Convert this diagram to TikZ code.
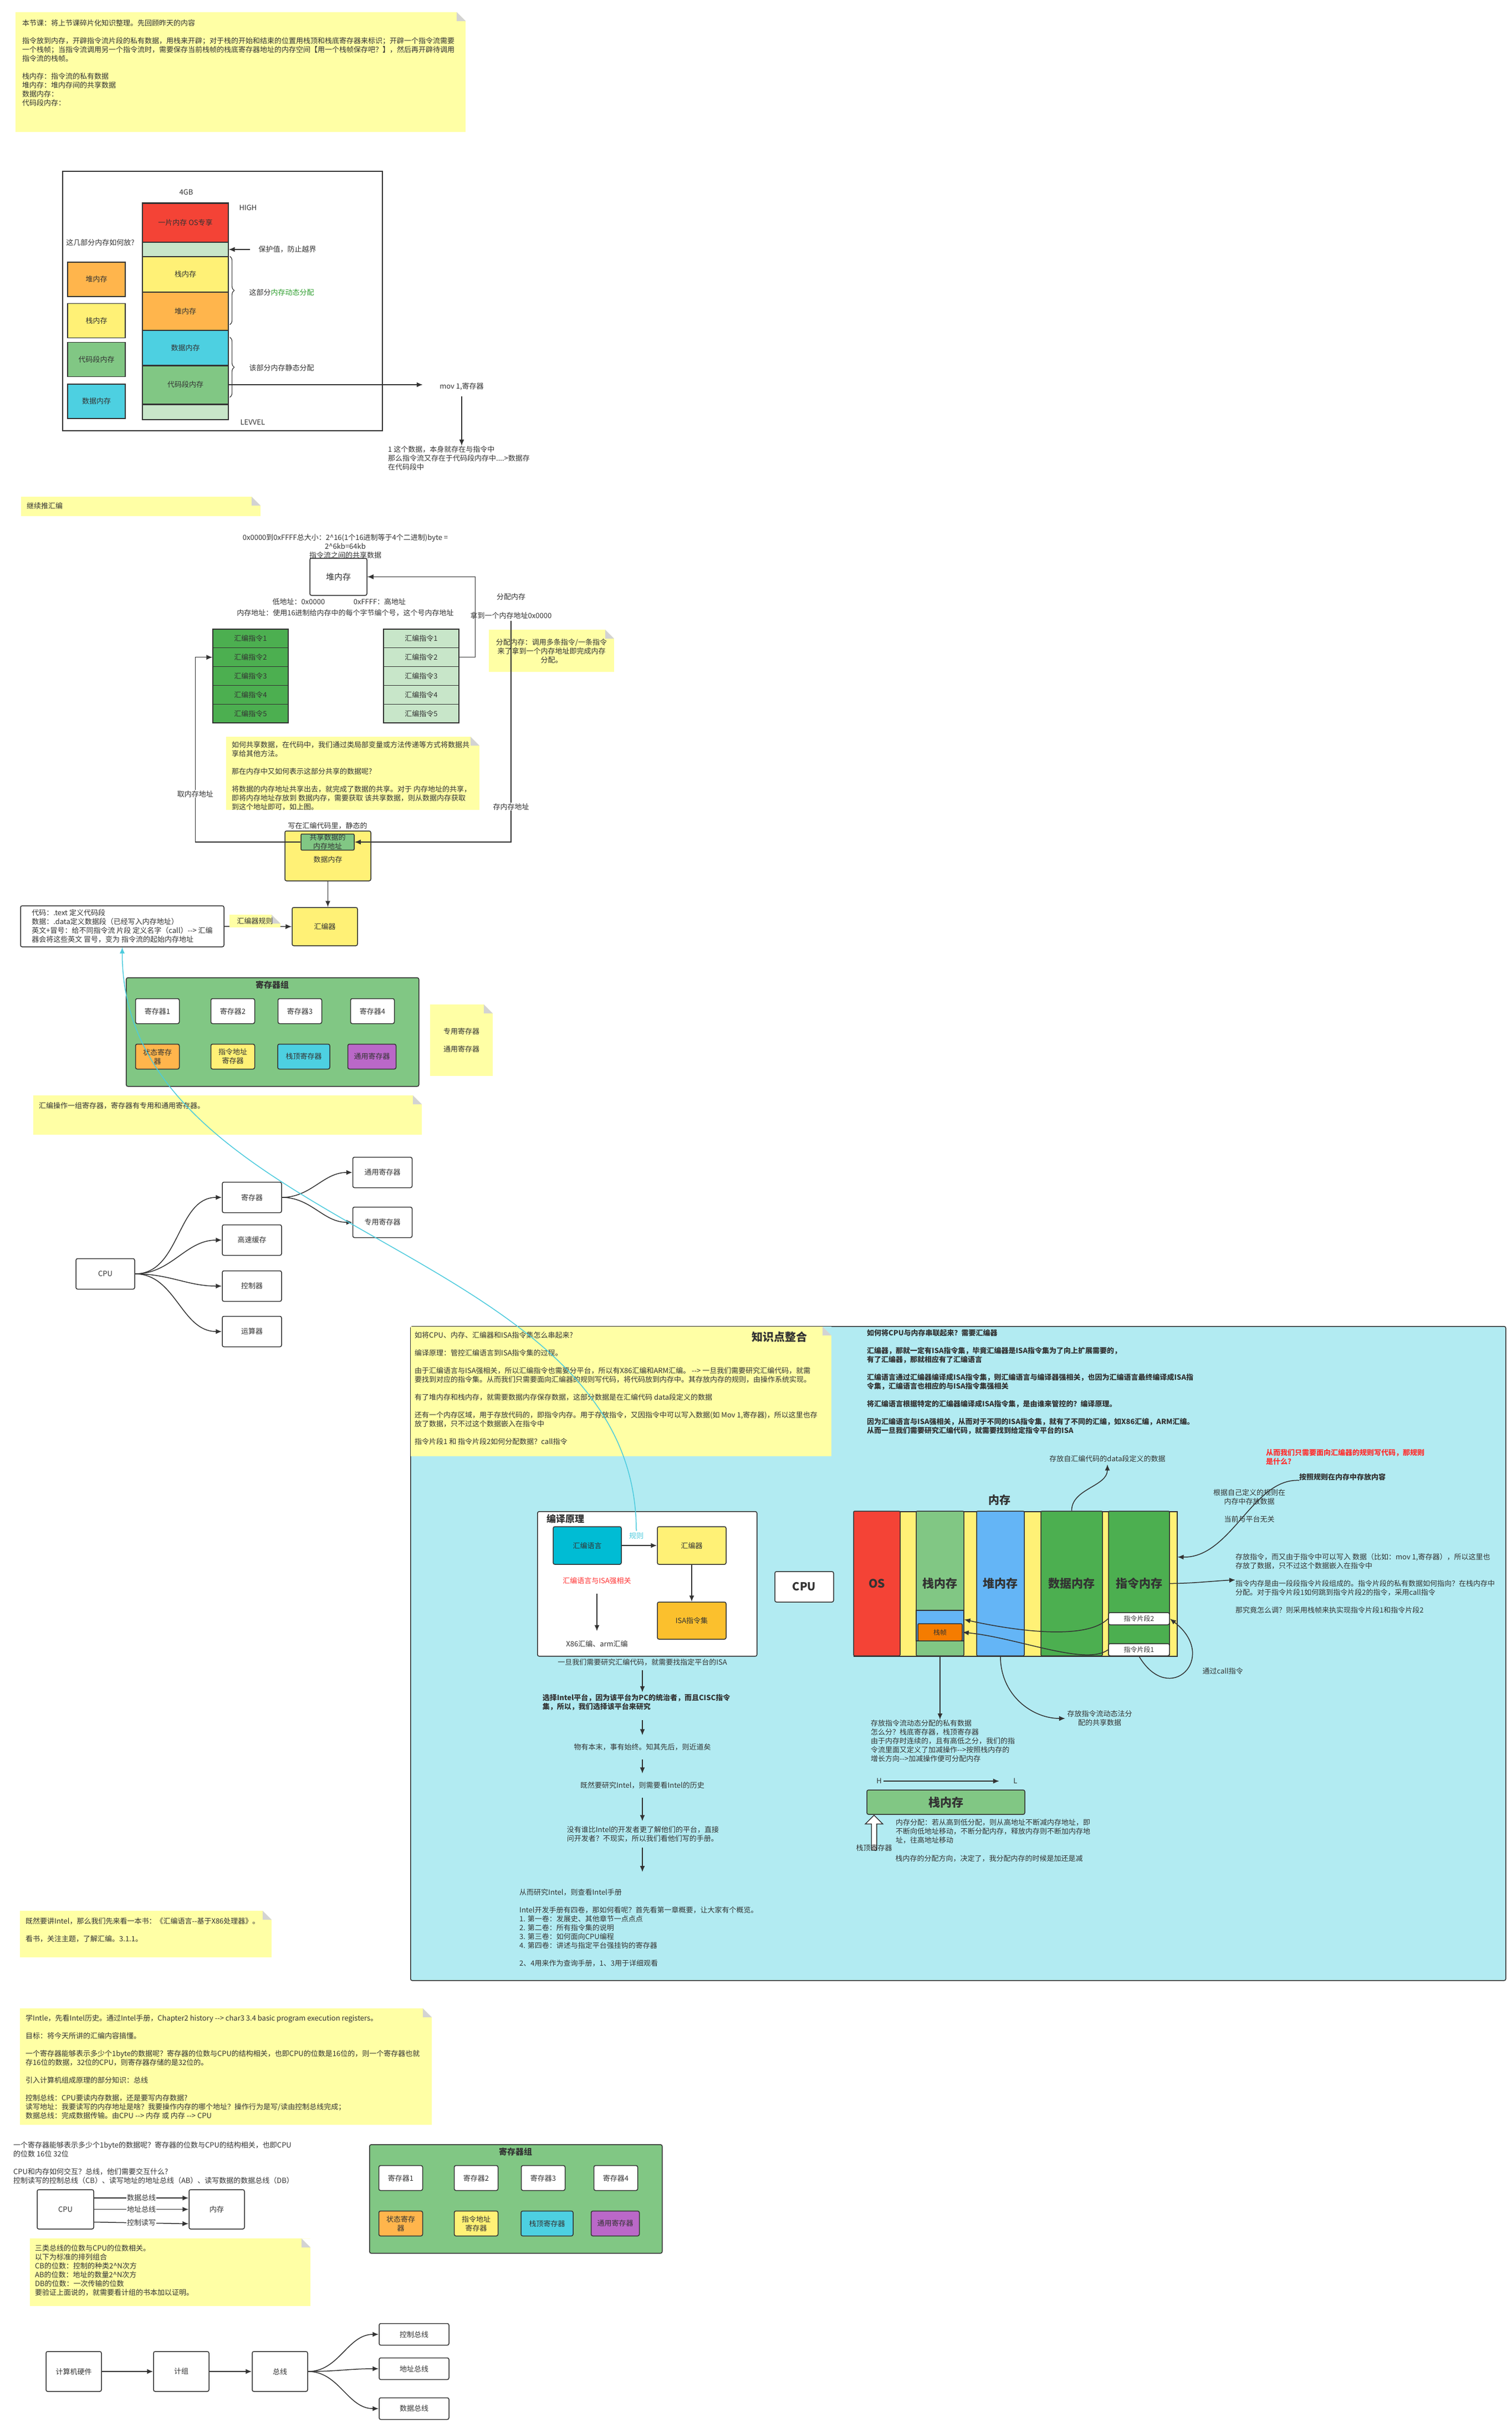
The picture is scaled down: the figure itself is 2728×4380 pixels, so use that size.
\documentclass[tikz,border=0pt]{standalone}
\usepackage{fontspec}
\setmainfont{Noto Sans CJK SC}
\usepackage{tikz}
\usetikzlibrary{arrows.meta,calc,decorations.pathreplacing,positioning,shapes.arrows}
\definecolor{noteyellow}{HTML}{FFFFA5}
\definecolor{foldgray}{HTML}{D3D3D3}
\definecolor{linegray}{HTML}{333333}
\definecolor{memred}{HTML}{F44336}
\definecolor{palegreen}{HTML}{C8E6C9}
\definecolor{memyellow}{HTML}{FFF176}
\definecolor{memorange}{HTML}{FFB54C}
\definecolor{memcyan}{HTML}{4DD0E1}
\definecolor{codegreen}{HTML}{81C784}
\definecolor{darkgreen}{HTML}{4CAF50}
\definecolor{memblue}{HTML}{64B5F6}
\definecolor{regpurple}{HTML}{BA68C8}
\definecolor{frameorange}{HTML}{F57C00}
\definecolor{asmcyan}{HTML}{00BCD4}
\definecolor{isaorange}{HTML}{FBC02D}
\definecolor{bgcyan}{HTML}{B2EBF2}
\definecolor{rulecyan}{HTML}{4DCBDD}
\definecolor{textred}{HTML}{FF3333}
\definecolor{textgreen}{HTML}{2E9E2E}
\tikzset{%
	note/.style     = {fill=noteyellow, draw=none, inner sep=0pt, path picture={
			\fill[#1] ([xshift=-16pt]path picture bounding box.north east) -- (path picture bounding box.north east) -- ([yshift=-16pt]path picture bounding box.north east) -- cycle;
			\fill[foldgray] ([xshift=-16pt]path picture bounding box.north east) -- ([xshift=-16pt,yshift=-16pt]path picture bounding box.north east) -- ([yshift=-16pt]path picture bounding box.north east) -- cycle;}},
	note/.default   = white,
	notetext/.style = {align=left, inner sep=0pt, anchor=north west},
	box/.style      = {draw=linegray, line width=1.5pt, rounded corners=3pt, fill=white, align=center, inner sep=1pt},
	plainbox/.style = {draw=linegray, line width=1.5pt, fill=white, align=center, inner sep=1pt},
	memcell/.style  = {draw=linegray, line width=1.2pt, align=center, inner sep=0pt},
	arrow/.style    = {line width=1.5pt, draw=linegray, -{Latex[length=11pt,width=9pt]}},
	edgelabel/.style= {fill=white, inner sep=1pt},
}
\newcommand{\bigtext}{\fontsize{21}{24}\selectfont\bfseries}
\newcommand{\midtext}{\fontsize{15}{18}\selectfont\bfseries}
\newcommand{\smalltext}{\fontsize{12}{14}\selectfont}

\begin{document}
\begin{tikzpicture}[x=1pt,y=-1pt,font=\fontsize{13}{16}\selectfont,text=linegray]
	\fill[white] (0,0) rectangle (2728,4380);
	\useasboundingbox (0,0) rectangle (2728,4380);
	
	% review note
	\node[note, minimum width=812pt, minimum height=216pt, anchor=north west] (introNote) at (28,22) {};
	\node[notetext] (introText) at (40,35) {本节课：将上节课碎片化知识整理。先回顾昨天的内容\\[16pt]
		指令放到内存，开辟指令流片段的私有数据，用栈来开辟；对于栈的开始和结束的位置用栈顶和栈底寄存器来标识；开辟一个指令流需要\\
		一个栈帧；当指令流调用另一个指令流时，需要保存当前栈帧的栈底寄存器地址的内存空间【用一个栈帧保存吧？】，然后再开辟待调用\\
		指令流的栈帧。\\[16pt]
		栈内存：指令流的私有数据\\
		堆内存：堆内存间的共享数据\\
		数据内存：\\
		代码段内存：};
	
	% memory layout
	\node[plainbox, minimum width=577pt, minimum height=468pt, anchor=north west] (memFrame) at (112,308) {};
	\node (sizeTag) at (336,347) {4GB};
	\node[memcell, fill=memred, minimum width=155pt, minimum height=70pt] (osPart) at (334.5,402) {一片内存 OS专享};
	\node[memcell, fill=palegreen, minimum width=155pt, minimum height=26pt] (guardTop) at (334.5,450) {};
	\node[memcell, fill=memyellow, minimum width=155pt, minimum height=64pt] (stackPart) at (334.5,495) {栈内存};
	\node[memcell, fill=memorange, minimum width=155pt, minimum height=69pt] (heapPart) at (334.5,561.5) {堆内存};
	\node[memcell, fill=memcyan, minimum width=155pt, minimum height=63pt] (dataPart) at (334.5,627.5) {数据内存};
	\node[memcell, fill=codegreen, minimum width=155pt, minimum height=70pt] (codePart) at (334.5,694) {代码段内存};
	\node[memcell, fill=palegreen, minimum width=155pt, minimum height=28pt] (guardLow) at (334.5,743) {};
	\draw[linegray, line width=3pt] (osPart.north west) -- (osPart.north east);
	\draw[linegray, line width=3pt] (dataPart.south west) -- (dataPart.south east);
	\draw[linegray, line width=3pt] (codePart.south west) -- (codePart.south east);
	
	\node (askPlace) at (181,438) {这几部分内存如何放?};
	\foreach \name/\col/\y/\txt in {leftHeap/memorange/504/堆内存, leftStack/memyellow/578.5/栈内存, leftCode/codegreen/648.5/代码段内存, leftData/memcyan/724/数据内存}
		\node[plainbox, fill=\col, minimum width=104pt, minimum height=62pt] (\name) at (174,\y) {\txt};
	
	\node[anchor=west] (highTag) at (428,375) {HIGH};
	\node[anchor=west] (lowTag) at (430,762) {LEVVEL};
	\node[anchor=west] (guardNote) at (463,450) {保护值，防止越界};
	\draw[arrow] (guardNote.west) ++(-12,0) -- (guardTop.east);
	\draw[linegray, line width=1.2pt, decorate, decoration={brace, amplitude=8pt}] ([xshift=2pt]stackPart.north east) -- ([xshift=2pt,yshift=11pt]heapPart.south east);
	\draw[linegray, line width=1.2pt, decorate, decoration={brace, amplitude=8pt}] ([xshift=2pt,yshift=-13pt]dataPart.north east) -- ([xshift=2pt,yshift=13pt]codePart.south east);
	\node[anchor=west] (dynTag) at (446,528) {这部分\textcolor{textgreen}{内存动态分配}};
	\node[anchor=west] (staticTag) at (446,664) {该部分内存静态分配};
	
	\node[minimum width=140pt] (movText) at (833,697) {mov 1,寄存器};
	\draw[arrow] (codePart.east) -- (codePart.east -| movText.west);
	\node[notetext] (movNote) at (700,804) {1 这个数据，本身就存在与指令中\\那么指令流又存在于代码段内存中....>数据存\\在代码段中};
	\draw[arrow] (movText.south) ++(0,8) -- (movText.south |- movNote.north);
	
	% heap and shared data
	\node[note, minimum width=432pt, minimum height=35pt, anchor=north west] (asmNote) at (38,896) {};
	\node[anchor=west, inner sep=0pt] (asmNoteText) at (48,913) {继续推汇编};
	\node[align=center] (rangeText) at (623,986) {0x0000到0xFFFF总大小：2\textasciicircum16(1个16进制等于4个二进制)byte =\\2\textasciicircum6kb=64kb\\指令流之间的共享数据};
	\node[box, minimum width=103pt, minimum height=67pt, font=\fontsize{15}{18}\selectfont] (heapBox) at (610.5,1040.5) {堆内存};
	\node (lowAddr) at (539,1086) {低地址：0x0000};
	\node (highAddr) at (685,1086) {0xFFFF：高地址};
	\node (addrText) at (623,1106) {内存地址：使用16进制给内存中的每个字节编个号，这个号内存地址};
	
	\foreach \i in {1,...,5} {
		\node[memcell, fill=darkgreen, minimum width=136pt, minimum height=33.8pt] (ownRow\i) at (452,{1118.1+33.8*\i}) {汇编指令\i};
		\node[memcell, fill=palegreen, minimum width=136pt, minimum height=33.8pt] (sharedRow\i) at (760,{1118.1+33.8*\i}) {汇编指令\i};
	}
	\draw[arrow] (sharedRow2.east) -- ++(29,0) |- (heapBox.east);
	\node (allocTag) at (922,1077) {分配内存};
	\node (gotAddr) at (922,1110) {拿到一个内存地址0x0000};
	\node[note, minimum width=226pt, minimum height=76pt, anchor=north west] (allocNote) at (882,1136) {};
	\node[align=center] (allocText) at (995,1175) {分配内存：调用多条指令/一条指令\\来了拿到一个内存地址即完成内存\\分配。};
	
	\node[note, minimum width=457pt, minimum height=132pt, anchor=north west] (shareNote) at (408,1329) {};
	\node[notetext] (shareText) at (418,1337) {如何共享数据，在代码中，我们通过类局部变量或方法传递等方式将数据共\\享给其他方法。\\[16pt]
		那在内存中又如何表示这部分共享的数据呢?\\[16pt]
		将数据的内存地址共享出去，就完成了数据的共享。对于 内存地址的共享，\\即将内存地址存放到 数据内存，需要获取 该共享数据，则从数据内存获取\\到这个地址即可，如上图。};
	
	\node (writeTag) at (591,1490) {写在汇编代码里，静态的};
	\node[box, fill=memyellow, minimum width=155pt, minimum height=90pt] (sharedData) at (591.5,1544) {\\[8pt]数据内存};
	\node[box, fill=codegreen, rounded corners=2pt, minimum width=96pt, minimum height=29pt, inner sep=0pt] (sharedAddr) at (591,1519) {共享数据的\\内存地址};
	\draw[arrow] (gotAddr.south) |- node[pos=0.42, edgelabel] {存内存地址} (sharedAddr.east);
	\draw[arrow] (sharedAddr.west) -- ++(-190,0) |- node[pos=0.13, edgelabel] {取内存地址} (ownRow2.west);
	
	% assembler
	\node[box, minimum width=367pt, minimum height=74pt, align=left] (codeBox) at (220.5,1671) {代码：.text 定义代码段\\数据：.data定义数据段（已经写入内存地址）\\英文+冒号：给不同指令流 片段 定义名字（call）-{}-> 汇编\\器会将这些英文 冒号，变为 指令流的起始内存地址};
	\node[box, fill=memyellow, minimum width=118pt, minimum height=69pt] (asmTool) at (586,1671.5) {汇编器};
	\draw[arrow] (sharedData.south) -- (sharedData.south |- asmTool.north);
	\draw[arrow] (codeBox.east) -- (asmTool.west);
	\node[note, minimum width=92pt, minimum height=23pt] (ruleNote) at (460,1661.5) {汇编器规则};
	
	% register groups
	\foreach \g/\gx/\gy in {A/227/1763, B/666/3868} {
		\begin{scope}[shift={(\gx,\gy)}]
			\node[box, fill=codegreen, minimum width=528pt, minimum height=196pt, anchor=north west] (regGroup\g) at (0,0) {};
			\node[font=\midtext] (regTitle\g) at (264,14) {寄存器组};
			\foreach \j/\rx in {1/57, 2/193, 3/314, 4/445}
				\node[box, minimum width=79pt, minimum height=45pt] (reg\g\j) at (\rx,61) {寄存器\j};
			\node[box, fill=memorange, minimum width=79pt, minimum height=45pt] (state\g) at (57,143) {状态寄存\\器};
			\node[box, fill=memyellow, minimum width=79pt, minimum height=45pt] (ipReg\g) at (193,143) {指令地址\\寄存器};
			\node[box, fill=memcyan, minimum width=94pt, minimum height=45pt] (spReg\g) at (321,143) {栈顶寄存器};
			\node[box, fill=regpurple, minimum width=87pt, minimum height=45pt] (gpReg\g) at (444,143) {通用寄存器};
		\end{scope}
	}
	\node[note, minimum width=113pt, minimum height=129pt, anchor=north west] (regKindNote) at (776,1812) {};
	\node[align=center] (regKindText) at (832.5,1877) {专用寄存器\\[16pt]通用寄存器};
	\node[note, minimum width=701pt, minimum height=71pt, anchor=north west] (regOpNote) at (60,1976) {};
	\node[anchor=west, inner sep=0pt] (regOpText) at (70,1995) {汇编操作一组寄存器，寄存器有专用和通用寄存器。};
	
	% cpu parts
	\node[box, minimum width=106pt, minimum height=55pt] (cpuRoot) at (190,2298) {CPU};
	\foreach \name/\y/\txt in {regPart/2160/寄存器, cachePart/2237/高速缓存, ctrlPart/2320/控制器, aluPart/2402/运算器} {
		\node[box, minimum width=107pt, minimum height=55pt] (\name) at (454.5,\y) {\txt};
		\draw[arrow] (cpuRoot.east) to[out=0,in=180] (\name.west);
	}
	\node[box, minimum width=107pt, minimum height=55pt] (gpRegs) at (690,2115) {通用寄存器};
	\node[box, minimum width=107pt, minimum height=55pt] (spRegs) at (690,2205) {专用寄存器};
	\draw[arrow] (regPart.east) to[out=0,in=180] (gpRegs.west);
	\draw[arrow] (regPart.east) to[out=0,in=180] (spRegs.west);
	
	% knowledge panel
	\node[box, fill=bgcyan, minimum width=1976pt, minimum height=1180pt, anchor=north west] (bigPanel) at (740,2392) {};
	\node[note=bgcyan, minimum width=759pt, minimum height=234pt, anchor=north west] (knowNote) at (741,2393) {};
	\node[font=\fontsize{20}{24}\selectfont\bfseries] (knowTitle) at (1406,2412) {知识点整合};
	\node[notetext] (knowText) at (748,2402) {如将CPU、内存、汇编器和ISA指令集怎么串起来?\\[16pt]
		编译原理：管控汇编语言到ISA指令集的过程。\\[16pt]
		由于汇编语言与ISA强相关，所以汇编指令也需要分平台，所以有X86汇编和ARM汇编。 -{}-> 一旦我们需要研究汇编代码，就需\\
		要找到对应的指令集。从而我们只需要面向汇编器的规则写代码，将代码放到内存中。其存放内存的规则，由操作系统实现。\\[16pt]
		有了堆内存和栈内存，就需要数据内存保存数据，这部分数据是在汇编代码 data段定义的数据\\[16pt]
		还有一个内存区域，用于存放代码的，即指令内存。用于存放指令，又因指令中可以写入数据(如 Mov 1,寄存器)，所以这里也存\\
		放了数据，只不过这个数据嵌入在指令中\\[16pt]
		指令片段1 和 指令片段2如何分配数据？call指令};
	
	\node[box, minimum width=396pt, minimum height=261pt, anchor=north west] (compileFrame) at (969,2726) {};
	\node[font=\fontsize{17}{20}\selectfont\bfseries] (compileTitle) at (1020,2740) {编译原理};
	\node[box, fill=asmcyan, minimum width=123pt, minimum height=68pt] (asmLang) at (1059.5,2788) {汇编语言};
	\node[box, fill=memyellow, minimum width=124pt, minimum height=68pt] (asmCore) at (1248,2788) {汇编器};
	\node[box, fill=isaorange, minimum width=124pt, minimum height=67pt] (isaSet) at (1248,2923.5) {ISA指令集};
	\draw[arrow] (asmLang.east) -- (asmCore.west);
	\draw[arrow] (asmCore.south) -- (isaSet.north);
	\node[text=rulecyan] (ruleTag) at (1148,2771) {规则};
	\node[text=textred] (strongTag) at (1077,2852) {汇编语言与ISA强相关};
	\node (archTag) at (1077,2965) {X86汇编、arm汇编};
	\draw[arrow, shorten <=13pt, shorten >=13pt] (strongTag) -- (archTag);
	\node[box, minimum width=106pt, minimum height=55pt, font=\fontsize{20}{24}\selectfont\bfseries] (cpuCore) at (1451,2862.5) {CPU};
	
	\node (step1) at (1159,2999) {一旦我们需要研究汇编代码，就需要找指定平台的ISA};
	\node[align=left, font=\fontsize{13}{16}\selectfont\bfseries] (step2) at (1148,3071) {选择Intel平台，因为该平台为PC的统治者，而且CISC指令\\集，所以，我们选择该平台来研究};
	\node (step3) at (1159,3152) {物有本末，事有始终。知其先后，则近道矣};
	\node (step4) at (1159,3221) {既然要研究Intel，则需要看Intel的历史};
	\node[align=left] (step5) at (1160,3309) {没有谁比Intel的开发者更了解他们的平台，直接\\问开发者？不现实，所以我们看他们写的手册。};
	\node[notetext] (step6) at (937,3407) {从而研究Intel，则查看Intel手册\\[16pt]
		Intel开发手册有四卷，那如何看呢？首先看第一章概要，让大家有个概览。\\
		1. 第一卷：发展史、其他章节一点点点\\
		2. 第二卷：所有指令集的说明\\
		3. 第三卷：如何面向CPU编程\\
		4. 第四卷：讲述与指定平台强挂钩的寄存器\\[16pt]
		2、4用来作为查询手册，1、3用于详细观看};
	\draw[arrow, shorten <=4pt] (step1.south) -- (step1.south |- step2.north);
	\draw[arrow, shorten <=14pt, shorten >=12pt] (step1.south |- step2.south) -- (step3.north);
	\draw[arrow, shorten <=12pt, shorten >=12pt] (step3.south) -- (step4.north);
	\draw[arrow, shorten <=12pt, shorten >=6pt] (step4.south) -- (step1.south |- step5.north);
	\draw[arrow, shorten <=6pt, shorten >=30pt] (step1.south |- step5.south) -- (step1.south |- step6.north);
	
	\node[notetext, font=\fontsize{13}{16}\selectfont\bfseries] (linkText) at (1564,2398) {如何将CPU与内存串联起来？需要汇编器\\[16pt]
		汇编器，那就一定有ISA指令集，毕竟汇编器是ISA指令集为了向上扩展需要的，\\
		有了汇编器，那就相应有了汇编语言\\[16pt]
		汇编语言通过汇编器编译成ISA指令集，则汇编语言与编译器强相关，也因为汇编语言最终编译成ISA指\\
		令集，汇编语言也相应的与ISA指令集强相关\\[16pt]
		将汇编语言根据特定的汇编器编译成ISA指令集，是由谁来管控的？编译原理。\\[16pt]
		因为汇编语言与ISA强相关，从而对于不同的ISA指令集，就有了不同的汇编，如X86汇编，ARM汇编。\\
		从而一旦我们需要研究汇编代码，就需要找到给定指令平台的ISA};
	
	% memory bar
	\node[plainbox, fill=memyellow, minimum width=583pt, minimum height=261pt, anchor=north west] (memBar) at (1540,2726) {};
	\node[font=\fontsize{20}{24}\selectfont\bfseries] (memTitle) at (1803,2706) {内存};
	\foreach \name/\col/\x/\w/\txt in {osCol/memred/1582/84/OS, stackCol/codegreen/1696/86/栈内存, heapCol/memblue/1805/86/堆内存, dataCol/darkgreen/1933.5/111/数据内存, instrCol/darkgreen/2055/110/指令内存}
		\node[box, rounded corners=2pt, fill=\col, minimum width=\w, minimum height=261pt, font=\bigtext] (\name) at (\x,2856.5) {\txt};
	\node[memcell, fill=memblue, minimum width=86pt, minimum height=55pt] (stackBlue) at (1696,2932.5) {};
	\node[box, fill=frameorange, rounded corners=2pt, minimum width=80pt, minimum height=31pt, font=\smalltext] (stackFrame) at (1696,2944.5) {栈帧};
	\node[box, minimum width=110pt, minimum height=22pt, inner sep=0pt, font=\smalltext] (seg2) at (2055,2920) {指令片段2};
	\node[box, minimum width=110pt, minimum height=22pt, inner sep=0pt, font=\smalltext] (seg1) at (2055,2976) {指令片段1};
	\draw[arrow] (seg2.west) .. controls +(-40,40) and +(90,20) .. ([yshift=11pt]stackBlue.east);
	\draw[arrow] (seg1.west) .. controls +(-40,30) and +(100,10) .. (stackFrame.east);
	\draw[arrow] (seg1.south) .. controls +(55,93) and +(90,70) .. (seg2.east);
	\node[anchor=west] (callTag) at (2166,3015) {通过call指令};
	
	\node (dataDesc) at (1998,2632) {存放自汇编代码的data段定义的数据};
	\draw[arrow] (dataCol.north) .. controls +(0,-40) and +(0,40) .. (dataDesc.south);
	\node[notetext, text=textred, font=\fontsize{13}{16}\selectfont\bfseries] (ruleAsk) at (2284,2614) {从而我们只需要面向汇编器的规则写代码，那规则\\是什么?};
	\node[anchor=west, inner sep=0pt, font=\fontsize{13}{16}\selectfont\bfseries] (ruleStore) at (2344,2664) {按照规则在内存中存放内容};
	\node[align=center] (ruleOwn) at (2254,2700) {根据自己定义的规则在\\内存中存放数据};
	\node (ruleFree) at (2254,2740) {当前与平台无关};
	\draw[arrow] (ruleStore.south west) .. controls +(-84,-4) and +(97,2) .. ([yshift=48.5pt]memBar.east);
	\node[notetext] (instrStore) at (2229,2802) {存放指令，而又由于指令中可以写入 数据（比如：mov 1,寄存器），所以这里也\\存放了数据，只不过这个数据嵌入在指令中};
	\node[notetext] (instrNote) at (2229,2850) {指令内存是由一段段指令片段组成的。指令片段的私有数据如何指向？在栈内存中\\分配。对于指令片段1如何跳到指令片段2的指令，采用call指令\\[16pt]那究竟怎么调？则采用栈帧来执实现指令片段1和指令片段2};
	\draw[arrow] (instrCol.east) .. controls +(40,0) and +(-40,2) .. (instrNote.north west);
	
	\node[notetext] (allocFlow) at (1571,3102) {存放指令流动态分配的私有数据\\怎么分？栈底寄存器，栈顶寄存器\\由于内存时连续的，且有高低之分，我们的指\\令流里面又定义了加减操作-{}->按照栈内存的\\增长方向-{}->加减操作便可分配内存};
	\draw[arrow] (stackCol.south) -- (stackCol.south |- allocFlow.north);
	\node[align=center] (sharedFlow) at (1984,3100) {存放指令流动态法分\\配的共享数据};
	\draw[arrow] (heapCol.south) .. controls +(0,70) and +(-60,0) .. (sharedFlow.west);
	
	\node (hMark) at (1586,3213) {H};
	\node (lMark) at (1832,3213) {L};
	\draw[arrow, shorten >=22pt] (hMark.east) -- (lMark.west);
	\node[box, fill=codegreen, minimum width=285pt, minimum height=44pt, font=\bigtext] (stackBar) at (1706.5,3251) {栈内存};
	\node[single arrow, draw=linegray, line width=1.5pt, fill=white, minimum height=63pt, inner sep=4pt, single arrow head extend=11pt, shape border rotate=90] (topPointer) at (1577,3308.5) {};
	\node (topTag) at (1577,3333) {栈顶寄存器};
	\node[notetext] (allocRule) at (1616,3281) {内存分配：若从高到低分配，则从高地址不断减内存地址，即\\不断向低地址移动，不断分配内存，释放内存则不断加内存地\\址，往高地址移动};
	\node[anchor=west] (allocDir) at (1612,3353) {栈内存的分配方向，决定了，我分配内存的时候是加还是减};
	
	% lower notes
	\node[note, minimum width=454pt, minimum height=84pt, anchor=north west] (bookNote) at (36,3447) {};
	\node[notetext] (bookText) at (46,3459) {既然要讲Intel，那么我们先来看一本书：《汇编语言-{}-基于X86处理器》。\\[16pt]看书，关注主题，了解汇编。3.1.1。};
	\node[note, minimum width=743pt, minimum height=210pt, anchor=north west] (historyNote) at (36,3623) {};
	\node[notetext] (historyText) at (46,3634) {学Intle，先看Intel历史。通过Intel手册，Chapter2 history -{}-> char3 3.4 basic program execution registers。\\[16pt]
		目标：将今天所讲的汇编内容搞懂。\\[16pt]
		一个寄存器能够表示多少个1byte的数据呢？寄存器的位数与CPU的结构相关，也即CPU的位数是16位的，则一个寄存器也就\\
		存16位的数据，32位的CPU，则寄存器存储的是32位的。\\[16pt]
		引入计算机组成原理的部分知识：总线\\[16pt]
		控制总线：CPU要读内存数据，还是要写内存数据?\\
		读写地址：我要读写的内存地址是啥？我要操作内存的哪个地址？操作行为是写/读由控制总线完成；\\
		数据总线：完成数据传输。由CPU -{}-> 内存 或 内存 -{}-> CPU};
	
	% buses
	\node[notetext] (busIntro) at (24,3863) {一个寄存器能够表示多少个1byte的数据呢？寄存器的位数与CPU的结构相关，也即CPU\\的位数 16位 32位\\[16pt]
		CPU和内存如何交互？总线，他们需要交互什么?\\
		控制读写的控制总线（CB）、读写地址的地址总线（AB）、读写数据的数据总线（DB）};
	\node[box, minimum width=102pt, minimum height=71pt] (cpuBus) at (118,3985.5) {CPU};
	\node[box, minimum width=100pt, minimum height=71pt] (memBus) at (391,3985.5) {内存};
	\draw[arrow] ([yshift=20.5pt]cpuBus.east) -- node[edgelabel] {数据总线} ([yshift=20.5pt]memBus.west);
	\draw[arrow] (cpuBus.east) -- node[edgelabel] {地址总线} (memBus.west);
	\draw[arrow] ([yshift=-23pt]cpuBus.east) -- node[edgelabel] {控制读写} ([yshift=-26pt]memBus.west);
	\node[note, minimum width=506pt, minimum height=122pt, anchor=north west] (busNote) at (54,4038) {};
	\node[notetext] (busText) at (63,4049) {三类总线的位数与CPU的位数相关。\\以下为标准的排列组合\\CB的位数：控制的种类2\textasciicircum N次方\\AB的位数：地址的数量2\textasciicircum N次方\\DB的位数：一次传输的位数\\要验证上面说的，就需要看计组的书本加以证明。};
	
	\node[box, minimum width=100pt, minimum height=72pt] (hwNode) at (133,4278) {计算机硬件};
	\node[box, minimum width=100pt, minimum height=72pt] (orgNode) at (327,4278) {计组};
	\node[box, minimum width=100pt, minimum height=72pt] (busNode) at (505,4278) {总线};
	\draw[arrow] (hwNode) -- (orgNode);
	\draw[arrow] (orgNode) -- (busNode);
	\foreach \name/\y/\txt in {cbNode/4211/控制总线, abNode/4273/地址总线, dbNode/4345/数据总线} {
		\node[box, minimum width=126pt, minimum height=39pt] (\name) at (747,\y) {\txt};
		\draw[arrow] (busNode.east) to[out=0,in=180] (\name.west);
	}
	
	% rule link
	\draw[rulecyan, line width=1.5pt, -{Latex[length=11pt,width=9pt]}] (ruleTag.north) .. controls +(0,-520) and +(0,520) .. (codeBox.south);
\end{tikzpicture}
\end{document}
